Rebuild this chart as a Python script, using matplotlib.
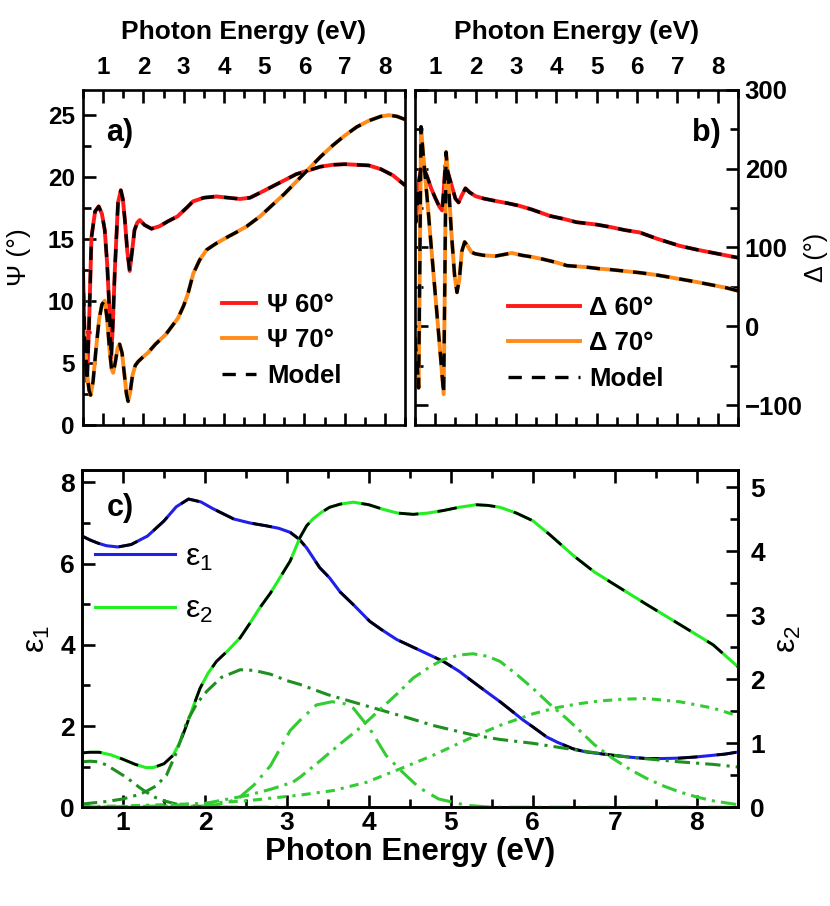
import matplotlib
matplotlib.use('Agg')
import matplotlib.pyplot as plt
from matplotlib.lines import Line2D
from matplotlib.ticker import MultipleLocator

plt.rcParams['font.family'] = ['Liberation Sans', 'DejaVu Sans']
plt.rcParams['mathtext.default'] = 'regular'

# ---- panel a: Psi (deg) ----
psi60_E = [0.5, 0.55, 0.6, 0.65, 0.71, 0.8, 0.89, 0.97, 1.04, 1.1, 1.16, 1.2, 1.24, 1.29,
           1.37, 1.44, 1.49, 1.54, 1.6, 1.66, 1.72, 1.78, 1.85, 1.91, 2.03, 2.2, 2.4,
           2.61, 2.85, 3.11, 3.23, 3.5, 3.82, 4.1, 4.4, 4.65, 4.9, 5.2, 5.5, 5.8, 6.1,
           6.4, 6.7, 7.0, 7.3, 7.6, 7.9, 8.2, 8.5]
psi60 = [12.5, 6.0, 3.5, 8.0, 15.1, 17.2, 17.6, 17.0, 15.7, 13.0, 9.0, 5.4, 8.0, 12.4,
         17.9, 18.9, 18.2, 16.5, 14.0, 12.4, 14.0, 15.7, 16.3, 16.5, 16.1, 15.8, 16.0,
         16.4, 16.8, 17.6, 18.0, 18.3, 18.4, 18.3, 18.2, 18.3, 18.7, 19.2, 19.7, 20.2, 20.5,
         20.8, 20.95, 21.0, 20.95, 20.9, 20.6, 20.1, 19.3]

psi70_E = [0.5, 0.55, 0.6, 0.65, 0.69, 0.75, 0.82, 0.9, 0.97, 1.04, 1.1, 1.16, 1.21, 1.25,
           1.3, 1.36, 1.41, 1.47, 1.53, 1.58, 1.62, 1.67, 1.73, 1.8, 1.87, 2.0, 2.11, 2.3,
           2.56, 2.86, 3.0, 3.11, 3.24, 3.4, 3.57, 3.8, 4.07, 4.3, 4.57, 4.9, 5.2, 5.5,
           5.8, 6.1, 6.4, 6.7, 7.0, 7.3, 7.6, 7.9, 8.1, 8.3, 8.5]
psi70 = [9.0, 6.5, 4.2, 2.8, 2.4, 3.5, 6.0, 8.5, 9.7, 10.0, 8.5, 6.0, 4.5, 4.2,
         5.0, 6.2, 6.5, 5.8, 4.0, 2.5, 1.9, 2.6, 4.0, 4.8, 5.1, 5.5, 5.8, 6.5,
         7.3, 8.6, 9.6, 10.6, 12.2, 13.3, 14.1, 14.6, 15.1, 15.5, 16.0, 16.8, 17.7, 18.6,
         19.6, 20.6, 21.6, 22.5, 23.3, 24.0, 24.5, 24.85, 24.95, 24.85, 24.6]

# ---- panel b: Delta (deg) ----
del60_E = [0.5, 0.52, 0.55, 0.6, 0.66, 0.72, 0.8, 0.9, 1.0, 1.1, 1.17, 1.21, 1.25, 1.3,
           1.4, 1.5, 1.58, 1.65, 1.75, 1.85, 2.0, 2.2, 2.49, 2.8, 3.07, 3.4, 3.84, 4.2,
           4.5, 5.0, 5.33, 5.7, 6.07, 6.5, 7.06, 7.5, 7.8, 8.2, 8.5]
del60 = [140, 132, 150, 185, 204, 200, 190, 175, 163, 152, 147, 170, 204, 198,
         180, 162, 157, 165, 175, 170, 165, 162, 159, 156, 153, 148, 140, 136,
         132, 129, 126, 122, 119, 111, 102, 97, 94, 90, 87]

del70_E = [0.5, 0.55, 0.59, 0.62, 0.65, 0.7, 0.8, 0.9, 1.0, 1.1, 1.21, 1.24, 1.27, 1.32,
           1.4, 1.48, 1.54, 1.6, 1.66, 1.73, 1.8, 1.9, 1.99, 2.2, 2.49, 2.7, 2.9, 3.15,
           3.4, 3.68, 4.0, 4.26, 4.75, 5.08, 5.33, 6.07, 6.5, 7.06, 7.5, 7.8, 8.2, 8.5]
del70 = [-15, -45, -78, 80, 253, 220, 163, 102, 42, -18, -86, 60, 221, 190,
         120, 65, 43, 60, 95, 107, 102, 94, 92, 90, 89, 91, 93, 90,
         88, 85, 81, 77, 75, 73, 72, 68, 65, 60, 56, 53, 49, 45]

# ---- panel c: dielectric function ----
eps1_E = [0.5, 0.6, 0.7, 0.8, 0.94, 1.1, 1.3, 1.5, 1.65, 1.8, 1.95, 2.1, 2.35, 2.55,
          2.75, 2.9, 3.04, 3.15, 3.24, 3.4, 3.52, 3.65, 3.81, 4.01, 4.15, 4.34, 4.5,
          4.7, 4.91, 5.1, 5.27, 5.45, 5.6, 5.75, 5.88, 6.0, 6.17, 6.3, 6.49, 6.65,
          6.82, 6.98, 7.2, 7.39, 7.6, 7.79, 8.0, 8.2, 8.35, 8.5]
eps1 = [6.68, 6.58, 6.5, 6.44, 6.41, 6.47, 6.68, 7.05, 7.4, 7.59, 7.52, 7.35, 7.1, 7.0,
        6.93, 6.87, 6.77, 6.6, 6.39, 5.9, 5.65, 5.3, 4.99, 4.58, 4.38, 4.13, 3.98,
        3.79, 3.59, 3.35, 3.09, 2.82, 2.6, 2.36, 2.15, 1.98, 1.73, 1.6, 1.44, 1.36,
        1.32, 1.28, 1.23, 1.2, 1.2, 1.21, 1.24, 1.28, 1.31, 1.36]

eps2_E = [0.5, 0.6, 0.71, 0.85, 1.0, 1.15, 1.28, 1.37, 1.5, 1.61, 1.7, 1.76, 1.85, 1.94,
          2.04, 2.14, 2.28, 2.43, 2.55, 2.67, 2.8, 2.92, 3.04, 3.16, 3.24, 3.32, 3.42,
          3.52, 3.65, 3.81, 4.0, 4.17, 4.35, 4.54, 4.72, 4.91, 5.1, 5.31, 5.45, 5.6,
          5.8, 6.0, 6.2, 6.5, 6.75, 7.0, 7.39, 7.79, 8.2, 8.5]
eps2 = [0.85, 0.86, 0.86, 0.82, 0.75, 0.67, 0.62, 0.62, 0.68, 0.81, 1.03, 1.23, 1.55, 1.86,
        2.1, 2.28, 2.45, 2.65, 2.88, 3.12, 3.35, 3.6, 3.85, 4.22, 4.4, 4.51, 4.61,
        4.69, 4.74, 4.77, 4.73, 4.66, 4.6, 4.58, 4.6, 4.64, 4.69, 4.73, 4.72, 4.69,
        4.6, 4.48, 4.27, 3.93, 3.68, 3.48, 3.17, 2.86, 2.54, 2.2]

# oscillator contributions to eps2
osc1_E = [0.5, 0.6, 0.7, 0.8, 0.9, 1.0, 1.1, 1.2, 1.28, 1.4, 1.5, 1.65, 1.8, 2.0, 2.3, 3.0]
osc1 = [0.71, 0.72, 0.71, 0.66, 0.58, 0.5, 0.41, 0.31, 0.24, 0.15, 0.1, 0.05, 0.025, 0.01, 0.0, 0.0]

osc2_E = [0.5, 0.8, 1.0, 1.2, 1.3, 1.4, 1.53, 1.65, 1.78, 1.9, 2.02, 2.2, 2.43, 2.6, 2.8,
          3.0, 3.16, 3.5, 4.01, 4.5, 4.78, 5.27, 5.6, 6.0, 6.4, 6.82, 7.2, 7.79, 8.2, 8.5]
osc2 = [0.05, 0.09, 0.13, 0.2, 0.26, 0.33, 0.5, 0.85, 1.34, 1.62, 1.81, 2.03, 2.15, 2.14, 2.08,
        1.98, 1.92, 1.76, 1.57, 1.39, 1.28, 1.13, 1.06, 1.0, 0.92, 0.84, 0.78, 0.71, 0.67, 0.63]

osc3_E = [0.5, 1.5, 2.0, 2.2, 2.4, 2.6, 2.8, 3.04, 3.16, 3.36, 3.55, 3.7, 3.81, 4.01, 4.21,
          4.41, 4.61, 4.85, 5.19, 5.5, 8.5]
osc3 = [0.0, 0.0, 0.02, 0.05, 0.13, 0.35, 0.65, 1.2, 1.36, 1.6, 1.65, 1.62, 1.55, 1.23, 0.81,
        0.55, 0.31, 0.13, 0.03, 0.0, 0.0]

osc4_E = [0.5, 1.0, 1.5, 2.0, 2.5, 2.8, 3.07, 3.16, 3.4, 3.63, 3.9, 4.13, 4.35, 4.54, 4.75,
          4.91, 5.1, 5.27, 5.45, 5.6, 5.8, 6.0, 6.2, 6.41, 6.57, 6.75, 6.98, 7.2, 7.39, 7.6,
          7.79, 8.0, 8.2, 8.5]
osc4 = [0.0, 0.01, 0.02, 0.06, 0.18, 0.28, 0.39, 0.47, 0.72, 0.97, 1.25, 1.52, 1.78, 2.02, 2.2,
        2.31, 2.38, 2.4, 2.36, 2.28, 2.08, 1.86, 1.62, 1.39, 1.2, 0.98, 0.76, 0.58, 0.45, 0.33,
        0.24, 0.16, 0.1, 0.04]

osc5_E = [0.5, 1.0, 1.5, 2.0, 2.5, 3.16, 3.56, 3.97, 4.38, 4.78, 5.27, 5.6, 6.0, 6.3, 6.57,
          6.8, 7.1, 7.39, 7.79, 8.2, 8.5]
osc5 = [0.01, 0.02, 0.04, 0.06, 0.1, 0.19, 0.26, 0.39, 0.6, 0.81, 1.1, 1.28, 1.46, 1.56, 1.62,
        1.66, 1.69, 1.7, 1.65, 1.55, 1.43]

RED = '#ff1a1a'
ORANGE = '#ff8c1a'
BLUE = '#2020e8'
GREEN = '#22ee22'
LGREEN = '#33cc33'
DGREEN = '#1f8f1f'

model_ab = (0, (4, 3))
model_c = (0, (7, 7))

fig = plt.figure(figsize=(8.3, 9.06), dpi=100)
axA = fig.add_axes([0.100, 0.531, 0.388, 0.370])
axB = fig.add_axes([0.500, 0.531, 0.389, 0.370])
axC = fig.add_axes([0.0988, 0.109, 0.790, 0.372])
axC2 = axC.twinx()

for ax in (axA, axB, axC, axC2):
    for s in ax.spines.values():
        s.set_linewidth(1.9)
    ax.tick_params(which='major', direction='in', length=9, width=1.9)
    ax.tick_params(which='minor', direction='in', length=6, width=1.9)

leg_font = {'size': 18.5, 'weight': 'bold'}

# ---- panel a ----
axA.plot(psi60_E, psi60, color=RED, lw=2.8)
axA.plot(psi70_E, psi70, color=ORANGE, lw=2.8)
axA.plot(psi60_E, psi60, color='black', lw=2.4, linestyle=model_ab)
axA.plot(psi70_E, psi70, color='black', lw=2.4, linestyle=model_ab)
axA.set_xlim(0.5, 8.5)
axA.set_ylim(0, 27)
axA.xaxis.set_major_locator(MultipleLocator(1))
axA.xaxis.set_minor_locator(MultipleLocator(0.5))
axA.yaxis.set_major_locator(MultipleLocator(5))
axA.yaxis.set_minor_locator(MultipleLocator(2.5))
axA.tick_params(axis='x', which='both', top=True, bottom=True, labeltop=True, labelbottom=False,
                labelsize=17.5, pad=8)
axA.tick_params(axis='y', which='both', left=True, right=False, labelsize=17.5, pad=6)
axA.xaxis.set_label_position('top')
axA.set_xlabel('Photon Energy (eV)', fontsize=19, fontweight='bold', labelpad=12)
axA.set_ylabel('Ψ (°)', fontsize=19, labelpad=12)
for lab in axA.get_xticklabels() + axA.get_yticklabels():
    lab.set_fontweight('bold')
axA.text(0.115, 0.872, 'a)', transform=axA.transAxes, fontsize=22, fontweight='bold',
         ha='center', va='center')
hA = [Line2D([], [], color=RED, lw=2.8), Line2D([], [], color=ORANGE, lw=2.8),
      Line2D([], [], color='black', lw=2.4, linestyle=model_ab)]
axA.legend(hA, ['Ψ 60°', 'Ψ 70°', 'Model'], prop=leg_font, frameon=False, loc='upper left',
           bbox_to_anchor=(0.432, 0.395), borderpad=0, borderaxespad=0, handlelength=1.3,
           handletextpad=0.45, labelspacing=0.45)

# ---- panel b ----
axB.plot(del60_E, del60, color=RED, lw=2.8)
axB.plot(del70_E, del70, color=ORANGE, lw=2.8)
axB.plot(del60_E, del60, color='black', lw=2.4, linestyle=model_ab)
axB.plot(del70_E, del70, color='black', lw=2.4, linestyle=model_ab)
axB.set_xlim(0.5, 8.5)
axB.set_ylim(-125, 300)
axB.xaxis.set_major_locator(MultipleLocator(1))
axB.xaxis.set_minor_locator(MultipleLocator(0.5))
axB.yaxis.set_major_locator(MultipleLocator(100))
axB.yaxis.set_minor_locator(MultipleLocator(50))
axB.tick_params(axis='x', which='both', top=True, bottom=True, labeltop=True, labelbottom=False,
                labelsize=17.5, pad=8)
axB.tick_params(axis='y', which='both', left=True, right=True, labelleft=False, labelright=True,
                labelsize=18.5, pad=5)
axB.xaxis.set_label_position('top')
axB.set_xlabel('Photon Energy (eV)', fontsize=19, fontweight='bold', labelpad=12)
axB.yaxis.set_label_position('right')
axB.set_ylabel('Δ (°)', fontsize=18, rotation=90, labelpad=1)
for lab in axB.get_xticklabels() + axB.get_yticklabels():
    lab.set_fontweight('bold')
axB.text(0.904, 0.872, 'b)', transform=axB.transAxes, fontsize=22, fontweight='bold',
         ha='center', va='center')
hB = [Line2D([], [], color=RED, lw=2.8), Line2D([], [], color=ORANGE, lw=2.8),
      Line2D([], [], color='black', lw=2.4, linestyle=model_ab)]
axB.legend(hB, ['Δ 60°', 'Δ 70°', 'Model'], prop=leg_font, frameon=False, loc='upper left',
           bbox_to_anchor=(0.288, 0.385), borderpad=0, borderaxespad=0, handlelength=2.8,
           handletextpad=0.35, labelspacing=0.45)

# ---- panel c ----
axC.plot(eps1_E, eps1, color=BLUE, lw=2.2)
axC.plot(eps1_E, eps1, color='black', lw=2.0, linestyle=model_c)
axC2.plot(eps2_E, eps2, color=GREEN, lw=2.2)
axC2.plot(eps2_E, eps2, color='black', lw=2.0, linestyle=model_c)
axC2.plot(osc1_E, osc1, color=DGREEN, lw=2.2, linestyle=(0, (5, 2, 1, 2)))
axC2.plot(osc2_E, osc2, color=DGREEN, lw=2.2, linestyle=(0, (5, 2, 1, 2)))
axC2.plot(osc3_E, osc3, color=LGREEN, lw=2.2, linestyle=(0, (7, 2.5, 1, 2.5)))
axC2.plot(osc4_E, osc4, color=LGREEN, lw=2.2, linestyle=(0, (5, 2, 1, 2)))
axC2.plot(osc5_E, osc5, color=LGREEN, lw=2.2, linestyle=(0, (3, 2, 1, 2)))
axC.set_xlim(0.5, 8.5)
axC.set_ylim(0, 8.3)
axC2.set_ylim(0, 5.27)
axC.xaxis.set_major_locator(MultipleLocator(1))
axC.xaxis.set_minor_locator(MultipleLocator(0.5))
axC.yaxis.set_major_locator(MultipleLocator(2))
axC.yaxis.set_minor_locator(MultipleLocator(1))
axC2.yaxis.set_major_locator(MultipleLocator(1))
axC2.yaxis.set_minor_locator(MultipleLocator(0.5))
axC.tick_params(axis='x', which='both', top=True, bottom=True, labelsize=19, pad=3)
axC.tick_params(axis='y', which='both', left=True, right=False, labelsize=19, pad=5)
axC2.tick_params(axis='y', which='both', labelsize=19, pad=9)
axC.set_xlabel('Photon Energy (eV)', fontsize=22.5, fontweight='bold', labelpad=1)
axC.set_ylabel('ε$_1$', fontsize=23, labelpad=6)
axC2.set_ylabel('ε$_2$', fontsize=23, labelpad=6)
for lab in axC.get_xticklabels() + axC.get_yticklabels() + axC2.get_yticklabels():
    lab.set_fontweight('bold')
axC.text(0.058, 0.887, 'c)', transform=axC.transAxes, fontsize=22, fontweight='bold',
         ha='center', va='center')
hC = [Line2D([], [], color=BLUE, lw=2.2), Line2D([], [], color=GREEN, lw=2.2)]
axC.legend(hC, ['ε$_1$', 'ε$_2$'], prop={'size': 23}, frameon=False, loc='upper left',
           bbox_to_anchor=(0.02, 0.785), borderpad=0, borderaxespad=0, handlelength=2.5,
           handletextpad=0.3, labelspacing=0.7)

fig.savefig('out.png', dpi=100)
